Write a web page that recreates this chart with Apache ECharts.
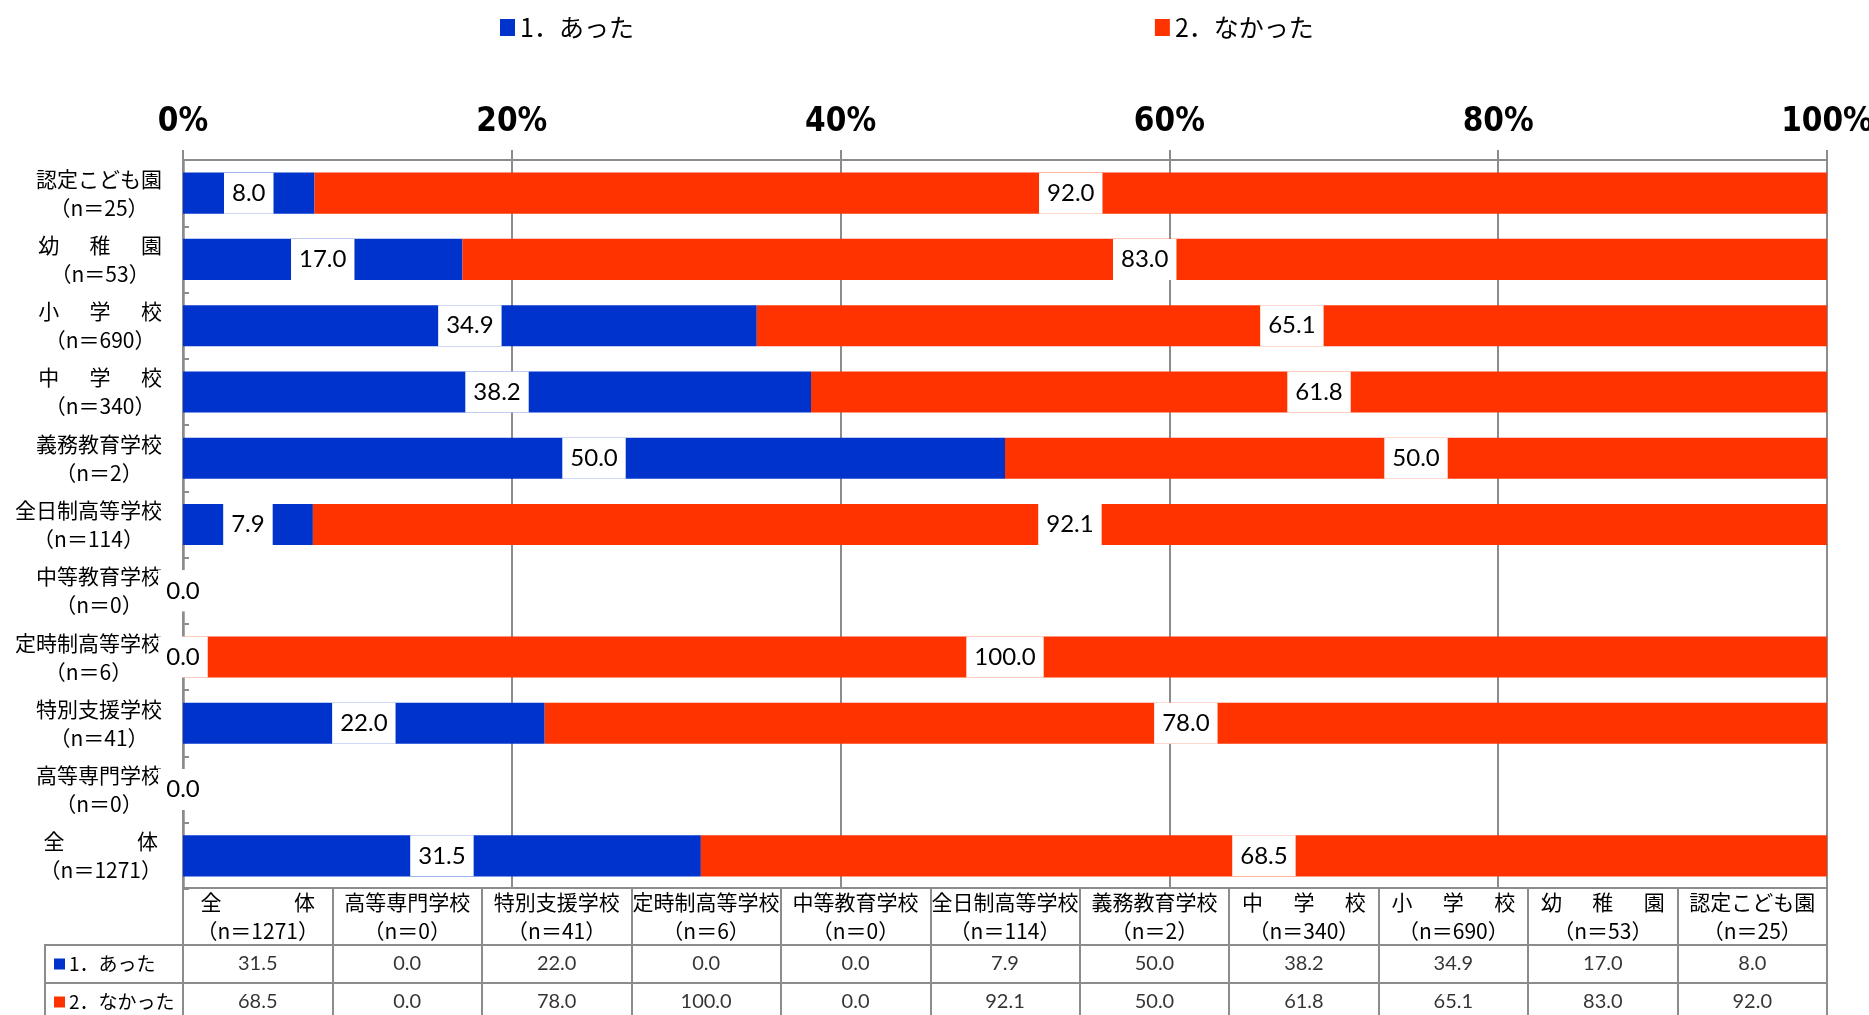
<!DOCTYPE html>
<html>
<head>
<meta charset="utf-8">
<script src="https://cdn.jsdelivr.net/npm/echarts@6/dist/echarts.min.js"></script>
<style>
html,body{margin:0;padding:0;background:#fff;}
#chart{width:1869px;height:1015px;}
</style>
</head>
<body>
<div id="chart"></div>
<script>
// Categories in data order (bottom of the chart first, also the table column order)
const schools = ['全　　　  体', '高等専門学校', '特別支援学校', '定時制高等学校', '中等教育学校', '全日制高等学校', '義務教育学校', '中　  学　  校', '小　  学　  校', '幼　  稚　  園', '認定こども園'];
const sampleN = [1271, 0, 41, 6, 0, 114, 2, 340, 690, 53, 25];
const seriesNames = ['1．あった', '2．なかった'];
const yesValues = [31.5, 0.0, 22.0, 0.0, 0.0, 7.9, 50.0, 38.2, 34.9, 17.0, 8.0];
const noValues = [68.5, 0.0, 78.0, 100.0, 0.0, 92.1, 50.0, 61.8, 65.1, 83.0, 92.0];
const tickLabels = ['0%', '20%', '40%', '60%', '80%', '100%'];

const BLUE = '#0033CC';
const RED = '#FF3300';
const GRAY = '#8c8c8c';
const JP = "'Noto Sans CJK JP', sans-serif";
const NUM = "Lato, 'Noto Sans', sans-serif";

const catLabels = schools.map((s, i) => s + '\n（n＝' + sampleN[i] + '）');
const richCenter = v => v.split('\n').map(s => '{c|' + s + '}').join('\n');

const chart = echarts.init(document.getElementById('chart'), null, {renderer: 'canvas'});

const barLabel = {
  show: true,
  position: 'inside',
  formatter: p => Number(p.value).toFixed(1),
  color: '#000',
  fontFamily: NUM,
  fontSize: 24,
  backgroundColor: '#fff',
  padding: [0, 8],
  lineHeight: 41,
  height: 41
};

const tableCell = (vals, row) => vals.map((v, i) => [i, row, v]);

const option = {
  animation: false,
  backgroundColor: '#fff',
  legend: {
    data: seriesNames,
    left: 495,
    top: 10,
    icon: 'rect',
    itemWidth: 15,
    itemHeight: 17,
    itemGap: 521,
    selectedMode: false,
    textStyle: {fontFamily: JP, fontSize: 25, color: '#000'}
  },
  grid: [
    {left: 183, right: 42, top: 160, height: 729, outerBoundsMode: 'none'},
    {left: 183, right: 42, top: 888, height: 57, show: true, borderColor: GRAY, borderWidth: 2, outerBoundsMode: 'none'},
    {left: 183, right: 42, top: 945, height: 76, show: true, borderColor: GRAY, borderWidth: 2, outerBoundsMode: 'none'},
    {left: 45, width: 138, top: 945, height: 76, show: true, borderColor: GRAY, borderWidth: 2, outerBoundsMode: 'none'}
  ],
  xAxis: [
    {
      gridIndex: 0, type: 'value', position: 'top', min: 0, max: 100, interval: 20,
      axisLine: {show: true, lineStyle: {color: GRAY, width: 2}},
      axisTick: {show: true, length: 10, lineStyle: {color: GRAY, width: 2}},
      splitLine: {show: true, lineStyle: {color: GRAY, width: 2}},
      axisLabel: {
        formatter: v => tickLabels[Math.round(v / 20)],
        fontFamily: "'Liberation Sans Narrow', 'DejaVu Sans Condensed', sans-serif",
        fontWeight: 'bold', fontSize: 33, color: '#000', margin: 21
      }
    },
    {
      gridIndex: 1, type: 'category', data: catLabels, position: 'top',
      axisLine: {show: false}, axisTick: {show: false},
      splitLine: {show: true, lineStyle: {color: GRAY, width: 2}},
      axisLabel: {
        inside: true, margin: 28.5, verticalAlign: 'middle', interval: 0,
        formatter: richCenter,
        rich: {c: {align: 'center', fontFamily: JP, fontSize: 21, lineHeight: 29, color: '#000'}}
      }
    },
    {
      gridIndex: 2, type: 'category', data: catLabels,
      axisLine: {show: false}, axisTick: {show: false}, axisLabel: {show: false},
      splitLine: {show: true, lineStyle: {color: GRAY, width: 2}}
    },
    {gridIndex: 3, type: 'category', data: [''], show: false}
  ],
  yAxis: [
    {
      gridIndex: 0, type: 'category', data: catLabels,
      axisLine: {show: true, lineStyle: {color: GRAY, width: 2.5}},
      axisTick: {show: true, inside: true, length: 6, lineStyle: {color: GRAY, width: 2}},
      splitLine: {show: false},
      axisLabel: {
        interval: 0, margin: 21,
        formatter: richCenter,
        rich: {c: {align: 'center', fontFamily: JP, fontSize: 21, lineHeight: 29, color: '#000'}}
      }
    },
    {gridIndex: 1, type: 'value', show: false},
    {
      gridIndex: 2, type: 'category', data: seriesNames, inverse: true,
      axisLine: {show: false}, axisTick: {show: false}, axisLabel: {show: false},
      splitLine: {show: true, lineStyle: {color: GRAY, width: 2}}
    },
    {
      gridIndex: 3, type: 'category', data: seriesNames, inverse: true,
      axisLine: {show: false}, axisTick: {show: false},
      splitLine: {show: true, lineStyle: {color: GRAY, width: 2}},
      axisLabel: {
        inside: true, margin: 9, align: 'left',
        formatter: (v, i) => '{s' + i + '| }{t|' + v + '}',
        rich: {
          s0: {backgroundColor: BLUE, width: 11, height: 11},
          s1: {backgroundColor: RED, width: 11, height: 11},
          t: {fontFamily: JP, fontSize: 19, color: '#000', padding: [0, 0, 0, 4]}
        }
      }
    }
  ],
  series: [
    {
      name: seriesNames[0], type: 'bar', stack: 'total', xAxisIndex: 0, yAxisIndex: 0,
      data: yesValues, barWidth: '62%', itemStyle: {color: BLUE},
      label: barLabel, emphasis: {disabled: true}
    },
    {
      name: seriesNames[1], type: 'bar', stack: 'total', xAxisIndex: 0, yAxisIndex: 0,
      data: noValues, barWidth: '62%', itemStyle: {color: RED},
      label: barLabel, emphasis: {disabled: true}
    },
    {
      type: 'scatter', xAxisIndex: 2, yAxisIndex: 2, symbolSize: 1,
      itemStyle: {color: 'rgba(0,0,0,0)'}, silent: true,
      data: tableCell(yesValues, 0).concat(tableCell(noValues, 1)),
      label: {
        show: true, position: 'inside', formatter: p => Number(p.value[2]).toFixed(1),
        color: '#000', fontFamily: NUM, fontSize: 20
      },
      emphasis: {disabled: true}
    }
  ]
};

chart.setOption(option);
</script>
</body>
</html>
